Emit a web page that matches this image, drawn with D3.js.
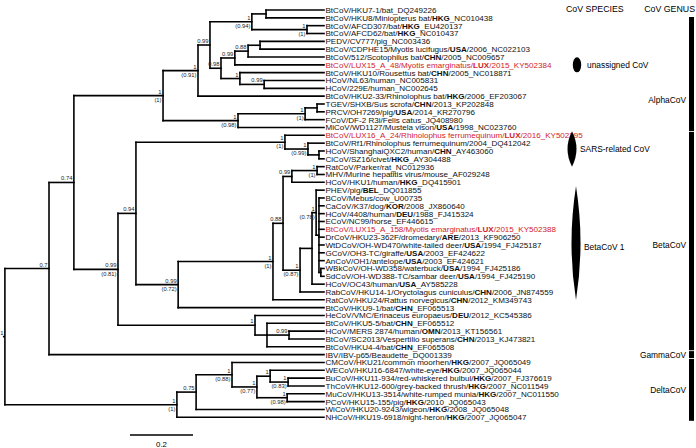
<!DOCTYPE html>
<html lang="en">
<head>
<meta charset="UTF-8" />
<title>CoV tree</title>
<script src="https://d3js.org/d3.v7.min.js"></script>
<style>
  body { margin: 0; background: #fff; }
  svg { font-family: "Liberation Sans", Arial, sans-serif; }
</style>
</head>
<body>
<svg width="696" height="448"></svg>
<script>
// internal nodes: id, parent, height (from tips), support, (posterior)
const nodes = [
  ["root", "", 1.013, "1", ""],
  ["K", "root", 0.873, "0.7", ""],
  ["J", "K", 0.794, "0.74", ""],
  ["D", "J", 0.511, "1", "(1)"],
  ["C", "D", 0.4, "1", "(0.91)"],
  ["n210", "C", 0.362, "0.99", ""],
  ["mini", "n210", 0.229, "1", "(0.94)"],
  ["n12", "mini", 0.184, "", ""],
  ["n34", "mini", 0.054, "1", "(1)"],
  ["B", "n210", 0.327, "0.98", ""],
  ["b235", "B", 0.283, "0.99", ""],
  ["b248", "b235", 0.241, "0.88", ""],
  ["b260", "b248", 0.203, "", ""],
  ["A", "B", 0.267, "1", ""],
  ["n1011", "A", 0.19, "0.99", ""],
  ["E", "D", 0.273, "1", "(0.98)"],
  ["F", "E", 0.06, "1", "(1)"],
  ["tp", "F", 0.022, "", ""],
  ["I", "J", 0.654, "0.99", "(0.81)"],
  ["G", "I", 0.597, "0.94", ""],
  ["S1", "G", 0.124, "1", "(1)"],
  ["S2", "S1", 0.051, "1", "(0.99)"],
  ["S3", "S2", 0.016, "", ""],
  ["H", "G", 0.463, "0.99", "(0.72)"],
  ["E1", "H", 0.162, "1", "(1)"],
  ["M1", "E1", 0.13, "0.88", ""],
  ["N23", "M1", 0.102, "0.99", ""],
  ["N2122", "N23", 0.022, "1", "(1)"],
  ["B1", "M1", 0.076, "1", "(0.87)"],
  ["P0", "B1", 0.038, "", ""],
  ["P1", "P0", 0.025, "1", "(0.78)"],
  ["P2", "P1", 0.016, "", ""],
  ["P3", "P2", 0.01, "", ""],
  ["Hc", "I", 0.219, "1", ""],
  ["Mer1", "Hc", 0.181, "", ""],
  ["MS", "Mer1", 0.111, "0.99", ""],
  ["Delta", "root", 0.467, "1", "(1)"],
  ["D75", "Delta", 0.406, "0.75", ""],
  ["N1", "D75", 0.292, "1", "(0.88)"],
  ["N2", "N1", 0.213, "1", "(0.77)"],
  ["N3", "N2", 0.171, "1", ""],
  ["N5", "N3", 0.114, "1", "(0.83)"],
  ["N4", "N2", 0.117, "1", "(0.98)"]
];

// tips in drawing order: name, parent node
const tips = [
  ["BtCoV/HKU7-1/bat_DQ249226", "n12"],
  ["BtCoV/HKU8/Miniopterus bat/HKG_NC010438", "n12"],
  ["BtCoV/AFCD307/bat/HKG_EU420137", "n34"],
  ["BtCoV/AFCD62/bat/HKG_NC010437", "n34"],
  ["PEDV/CV777/pig_NC003436", "b260"],
  ["BtCoV/CDPHE15/Myotis lucifugus/USA/2006_NC022103", "b260"],
  ["BtCoV/512/Scotophilus bat/CHN/2005_NC009657", "b248"],
  ["BtCoV/LUX15_A_48/Myotis emarginatus/LUX/2015_KY502384", "b235"],
  ["BtCoV/HKU10/Rousettus bat/CHN/2005_NC018871", "A"],
  ["HCoV/NL63/human_NC005831", "n1011"],
  ["HCoV/229E/human_NC002645", "n1011"],
  ["BtCoV/HKU2-33/Rhinolophus bat/HKG/2006_EF203067", "C"],
  ["TGEV/SHXB/Sus scrofa/CHN/2013_KP202848", "tp"],
  ["PRCV/OH7269/pig/USA/2014_KR270796", "tp"],
  ["FCoV/DF-2 R3i/Felis catus_JQ408980", "F"],
  ["MiCoV/WD1127/Mustela vison/USA/1998_NC023760", "E"],
  ["BtCoV/LUX16_A_24/Rhinolophus ferrumequinum/LUX/2016_KY502395", "S1"],
  ["BtCoV/Rf1/Rhinolophus ferrumequinum/2004_DQ412042", "S2"],
  ["HCoV/ShanghaiQXC2/human/CHN_AY463060", "S3"],
  ["CiCoV/SZ16/civet/HKG_AY304488", "S3"],
  ["RatCoV/Parker/rat_NC012936", "N2122"],
  ["MHV/Murine hepatitis virus/mouse_AF029248", "N2122"],
  ["HCoV/HKU1/human/HKG_DQ415901", "N23"],
  ["PHEV/pig/BEL_DQ011855", "P1"],
  ["BCoV/Mebus/cow_U00735", "P2"],
  ["CaCoV/K37/dog/KOR/2008_JX860640", "P2"],
  ["HCoV/4408/human/DEU/1988_FJ415324", "P2"],
  ["ECoV/NC99/horse_EF446615", "P2"],
  ["BtCoV/LUX15_A_158/Myotis emarginatus/LUX/2015_KY502388", "P2"],
  ["DrCoV/HKU23-362F/dromedary/ARE/2013_KF906250", "P2"],
  ["WtDCoV/OH-WD470/white-tailed deer/USA/1994_FJ425187", "P2"],
  ["GCoV/OH3-TC/giraffe/USA/2003_EF424622", "P2"],
  ["AnCoV/OH1/antelope/USA/2003_EF424621", "P2"],
  ["WBkCoV/OH-WD358/waterbuck/USA/1994_FJ425186", "P3"],
  ["SdCoV/OH-WD388-TC/sambar deer/USA/1994_FJ425190", "P3"],
  ["HCoV/OC43/human/USA_AY585228", "P0"],
  ["RabCoV/HKU14-1/Oryctolagus cuniculus/CHN/2006_JN874559", "B1"],
  ["RatCoV/HKU24/Rattus norvegicus/CHN/2012_KM349743", "E1"],
  ["BtCoV/HKU9-1/bat/CHN_EF065513", "H"],
  ["HeCoV/VMC/Erinaceus europaeus/DEU/2012_KC545386", "Hc"],
  ["BtCoV/HKU5-5/bat/CHN_EF065512", "Mer1"],
  ["HCoV/MERS 2874/human/OMN/2013_KT156561", "MS"],
  ["BtCoV/SC2013/Vespertilio superans/CHN/2013_KJ473821", "MS"],
  ["BtCoV/HKU4-4/bat/CHN_EF065508", "Mer1"],
  ["IBV/IBV-p65/Beaudette_DQ001339", "K"],
  ["CMCoV/HKU21/common moorhen/HKG/2007_JQ065049", "N1"],
  ["WECoV/HKU16-6847/white-eye/HKG/2007_JQ065044", "N3"],
  ["BuCoV/HKU11-934/red-whiskered bulbul/HKG/2007_FJ376619", "N5"],
  ["ThCoV/HKU12-600/grey-backed thrush/HKG/2007_NC011549", "N5"],
  ["MuCoV/HKU13-3514/white-rumped munia/HKG/2007_NC011550", "N4"],
  ["PCoV/HKU15-155/pig/HKG/2010_JQ065043", "N4"],
  ["WiCoV/HKU20-9243/wigeon/HKG/2008_JQ065048", "D75"],
  ["NHCoV/HKU19-6918/night-heron/HKG/2007_JQ065047", "Delta"]
];

// species marks: name, first tip, last tip
const species = [
  ["unassigned CoV", 7, 7],
  ["SARS-related CoV", 16, 19],
  ["BetaCoV 1", 23, 36]
];
// genus bars: name, first tip, last tip, tip the label sits beside
const genera = [
  ["AlphaCoV", 0, 15, 11.5],
  ["BetaCoV", 16, 43, 30],
  ["GammaCoV", 44, 44, 44],
  ["DeltaCoV", 45, 52, 48.5]
];
const scaleLength = 0.2;

const TIP_X = 324;
const svg = d3.select("svg");

const x = d3.scaleLinear().domain([0, 1]).range([TIP_X, TIP_X - 315]);
const yIdx = d3.scaleLinear().domain([0, tips.length - 1]).range([10, 417.3]);
const y = d3.scalePoint().domain(tips.map(d => d[0])).range([10, 417.3]);

const rows = nodes.map(d => ({ id: d[0], parentId: d[1] || null, h: d[2], sup: d[3], post: d[4] }))
  .concat(tips.map(d => ({ id: d[0], parentId: d[1], h: 0, tip: true })));
const root = d3.stratify()(rows);

root.eachAfter(n => {
  n.px = x(n.data.h);
  if (n.data.tip) n.py = y(n.data.id);
  else {
    const ext = d3.extent(n.children, c => c.py);
    n.py = (ext[0] + ext[1]) / 2;
  }
});

const g = svg.append("g");
const LW = 1.6;

// horizontal branches
g.selectAll(".hb")
  .data(root.descendants().filter(n => n.parent))
  .join("line")
  .attr("x1", n => n.parent.px)
  .attr("x2", n => n.px)
  .attr("y1", n => n.py)
  .attr("y2", n => n.py)
  .attr("stroke", "#000")
  .attr("stroke-width", LW)
  .attr("stroke-linecap", "square");

// root stub
g.append("line")
  .attr("x1", root.px - 2).attr("x2", root.px)
  .attr("y1", root.py).attr("y2", root.py)
  .attr("stroke", "#000").attr("stroke-width", LW);

// vertical connectors
g.selectAll(".vb")
  .data(root.descendants().filter(n => n.children))
  .join("line")
  .attr("x1", n => n.px)
  .attr("x2", n => n.px)
  .attr("y1", n => d3.min(n.children, c => c.py))
  .attr("y2", n => d3.max(n.children, c => c.py))
  .attr("stroke", "#000")
  .attr("stroke-width", LW)
  .attr("stroke-linecap", "square");

// support values
const inner = root.descendants().filter(n => n.children);
g.selectAll(".sup")
  .data(inner.filter(n => n.data.sup))
  .join("text")
  .attr("x", n => n.px - 1.5)
  .attr("y", n => n.py - 2)
  .attr("text-anchor", "end")
  .attr("font-size", 5.8)
  .attr("fill", "#222")
  .text(n => n.data.sup);
g.selectAll(".post")
  .data(inner.filter(n => n.data.post))
  .join("text")
  .attr("x", n => n.px - 1.5)
  .attr("y", n => n.py + 6.3)
  .attr("text-anchor", "end")
  .attr("font-size", 5.8)
  .attr("fill", "#222")
  .text(n => n.data.post);

// tip labels with bold country codes
const codeRe = /(?<=\/)(HKG|USA|CHN|LUX|KOR|DEU|ARE|BEL|OMN)(?=[\/_])/;
const labels = g.selectAll(".tip")
  .data(tips)
  .join("text")
  .attr("x", TIP_X + 1.5)
  .attr("y", d => y(d[0]))
  .attr("dy", "0.36em")
  .attr("font-size", 8.05)
  .attr("fill", d => d[0].includes("LUX") ? "#d2232a" : "#111");
labels.each(function (d) {
  const parts = d[0].split(codeRe);
  const t = d3.select(this);
  parts.forEach((p, i) => {
    t.append("tspan").attr("font-weight", i % 2 ? "bold" : null).text(p);
  });
});

// scale bar
const sbX = 130, sbY = 435;
const sbLen = x(0) - x(scaleLength);
svg.append("line")
  .attr("x1", sbX).attr("x2", sbX + sbLen)
  .attr("y1", sbY).attr("y2", sbY)
  .attr("stroke", "#000").attr("stroke-width", 1.5);
svg.append("text")
  .attr("x", sbX + sbLen / 2).attr("y", 447)
  .attr("text-anchor", "middle").attr("font-size", 7.8)
  .text(scaleLength);

// headers
svg.append("text").attr("x", 566).attr("y", 12).attr("font-size", 8.8).text("CoV SPECIES");
svg.append("text").attr("x", 695).attr("y", 12).attr("text-anchor", "end").attr("font-size", 8.8).text("CoV GENUS");

// species marks
const lensCx = [577, 572, 576];
species.forEach(([name, a, b], i) => {
  const cx = lensCx[i];
  if (a === b) {
    svg.append("ellipse")
      .attr("cx", cx).attr("cy", yIdx(a)).attr("rx", 4.2).attr("ry", 7.5)
      .attr("fill", "#000");
    svg.append("text")
      .attr("x", cx + 10).attr("y", yIdx(a)).attr("dy", "0.35em")
      .attr("font-size", 8.4).text(name);
    return;
  }
  const y0 = yIdx(a) - 4, y1 = yIdx(b) + 8;
  const ym = (y0 + y1) / 2, hw = 4.5;
  svg.append("path")
    .attr("d", `M${cx},${y0} Q${cx + hw * 2},${ym} ${cx},${y1} Q${cx - hw * 2},${ym} ${cx},${y0}Z`)
    .attr("fill", "#000");
  svg.append("text")
    .attr("x", cx + 8).attr("y", ym + (b - a > 5 ? 4 : 0)).attr("dy", "0.35em")
    .attr("font-size", 8.4).text(name);
});

// genus bars
const barX = 689;
genera.forEach(([name, a, b, at]) => {
  const y0 = Math.max(yIdx(a) - 3.5, 17), y1 = yIdx(b) + 3.5;
  svg.append("rect")
    .attr("x", barX).attr("y", y0).attr("width", 5).attr("height", y1 - y0)
    .attr("fill", "#000");
  svg.append("text")
    .attr("x", barX - 3).attr("y", yIdx(at)).attr("dy", "0.35em")
    .attr("text-anchor", "end").attr("font-size", 8.4).text(name);
});
</script>
</body>
</html>
